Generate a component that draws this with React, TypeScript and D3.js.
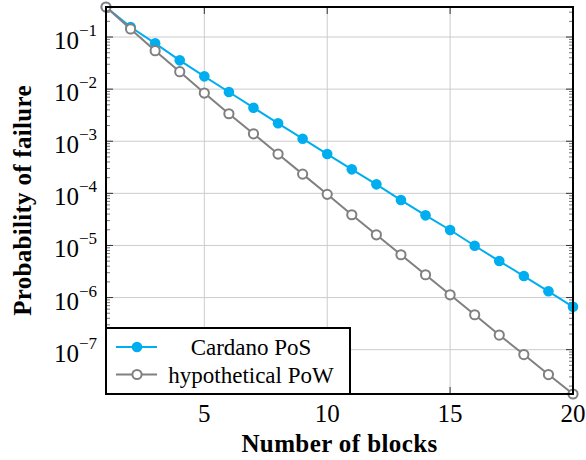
import * as d3 from 'd3'

const blocks = d3.range(1, 21)

const cardanoPoS = [
  0.377, 0.156, 0.0757, 0.0357, 0.0176, 0.0088, 0.0044, 0.00221, 0.00112, 5.68e-4,
  2.89e-4, 1.49e-4, 7.43e-5, 3.78e-5, 1.98e-5, 9.87e-6, 5.02e-6, 2.59e-6, 1.32e-6, 6.65e-7,
]

const hypotheticalPoW = [
  0.377, 0.143, 0.0546, 0.0216, 0.00841, 0.00337, 0.00139, 5.68e-4, 2.34e-4, 9.57e-5,
  3.88e-5, 1.6e-5, 6.63e-6, 2.74e-6, 1.13e-6, 4.68e-7, 1.91e-7, 8.05e-8, 3.33e-8, 1.41e-8,
]

const xTicks = [5, 10, 15, 20]
const yExponents = [-1, -2, -3, -4, -5, -6, -7]

const W = 586
const H = 460
const margin = { top: 7, right: 13, bottom: 66, left: 106 }

const CYAN = '#00aeef'
const GRAY = '#808080'
const FONT = '"Liberation Serif", "DejaVu Serif", serif'

export default function App() {
  const x = d3.scaleLinear().domain([1, 20]).range([margin.left, W - margin.right])
  const y = d3
    .scaleLog()
    .domain([hypotheticalPoW[19], cardanoPoS[0]])
    .range([H - margin.bottom, margin.top])

  const [x0, x1] = x.range()
  const [y0, y1] = y.range()

  // minor ticks 2..9 x 10^k inside the domain
  const minor: number[] = []
  for (let k = -9; k <= 0; k++) {
    for (let m = 2; m <= 9; m++) {
      const v = m * Math.pow(10, k)
      if (v >= y.domain()[0] && v <= y.domain()[1]) minor.push(v)
    }
  }

  const line = d3
    .line<number>()
    .x((_, i) => x(blocks[i]))
    .y((d) => y(d))

  const legendItems = [
    { label: 'Cardano PoS', color: CYAN, filled: true },
    { label: 'hypothetical PoW', color: GRAY, filled: false },
  ]

  return (
    <div style={{ position: 'absolute', left: 0, top: 0 }}>
      <svg width={W} height={H} style={{ display: 'block', background: '#fff' }}>
        {/* grid */}
        <g stroke="#cccccc" strokeWidth={1}>
          {xTicks.map((t) => (
            <line key={t} x1={x(t)} x2={x(t)} y1={y1} y2={y0} />
          ))}
          {yExponents.map((e) => (
            <line key={e} x1={x0} x2={x1} y1={y(Math.pow(10, e))} y2={y(Math.pow(10, e))} />
          ))}
        </g>

        {/* ticks */}
        <g stroke="#555" strokeWidth={0.8}>
          {minor.map((v) => (
            <g key={v}>
              <line x1={x0} x2={x0 + 4} y1={y(v)} y2={y(v)} />
              <line x1={x1} x2={x1 - 4} y1={y(v)} y2={y(v)} />
            </g>
          ))}
        </g>
        <g stroke="#333" strokeWidth={1}>
          {yExponents.map((e) => (
            <g key={e}>
              <line x1={x0} x2={x0 + 7} y1={y(Math.pow(10, e))} y2={y(Math.pow(10, e))} />
              <line x1={x1} x2={x1 - 7} y1={y(Math.pow(10, e))} y2={y(Math.pow(10, e))} />
            </g>
          ))}
          {xTicks.map((t) => (
            <g key={t}>
              <line x1={x(t)} x2={x(t)} y1={y1} y2={y1 + 7} />
              <line x1={x(t)} x2={x(t)} y1={y0} y2={y0 - 7} />
            </g>
          ))}
        </g>

        {/* series */}
        <path d={line(cardanoPoS) ?? ''} fill="none" stroke={CYAN} strokeWidth={2} />
        {cardanoPoS.map((v, i) => (
          <circle key={i} cx={x(blocks[i])} cy={y(v)} r={5.3} fill={CYAN} />
        ))}
        <path d={line(hypotheticalPoW) ?? ''} fill="none" stroke={GRAY} strokeWidth={2} />
        {hypotheticalPoW.map((v, i) => (
          <circle key={i} cx={x(blocks[i])} cy={y(v)} r={4.6} fill="#fff" stroke={GRAY} strokeWidth={2} />
        ))}

        {/* frame */}
        <rect x={x0} y={y1} width={x1 - x0} height={y0 - y1} fill="none" stroke="#000" strokeWidth={2} />

        {/* tick labels */}
        <g fontFamily={FONT} fill="#000">
          {yExponents.map((e) => (
            <text key={e} x={97} y={y(Math.pow(10, e)) + 12} textAnchor="end" fontSize={25}>
              10
              <tspan fontSize={17} dy={-13}>
                {'\u2212' + Math.abs(e)}
              </tspan>
            </text>
          ))}
          {xTicks.map((t) => (
            <text key={t} x={x(t)} y={422} textAnchor="middle" fontSize={25}>
              {t}
            </text>
          ))}
        </g>

        {/* axis titles */}
        <text
          x={(x0 + x1) / 2}
          y={452}
          textAnchor="middle"
          fontFamily={FONT}
          fontWeight="bold"
          fontSize={25}
          letterSpacing={0.4}
        >
          Number of blocks
        </text>
        <text
          transform={`translate(31,${(y0 + y1) / 2}) rotate(-90)`}
          textAnchor="middle"
          fontFamily={FONT}
          fontWeight="bold"
          fontSize={25}
          letterSpacing={0.3}
        >
          Probability of failure
        </text>

        {/* legend */}
        <g>
          <rect x={x0} y={328} width={244} height={y0 - 328} fill="#fff" stroke="#000" strokeWidth={2} />
          {legendItems.map((it, i) => {
            const ly = 347 + i * 27.5
            return (
              <g key={it.label}>
                <line x1={116} x2={157} y1={ly} y2={ly} stroke={it.color} strokeWidth={2} />
                {it.filled ? (
                  <circle cx={137} cy={ly} r={5.3} fill={it.color} />
                ) : (
                  <circle cx={137} cy={ly} r={4.6} fill="#fff" stroke={it.color} strokeWidth={2} />
                )}
                <text x={251} y={ly + 8} textAnchor="middle" fontFamily={FONT} fontSize={23}>
                  {it.label}
                </text>
              </g>
            )
          })}
        </g>
      </svg>
    </div>
  )
}
